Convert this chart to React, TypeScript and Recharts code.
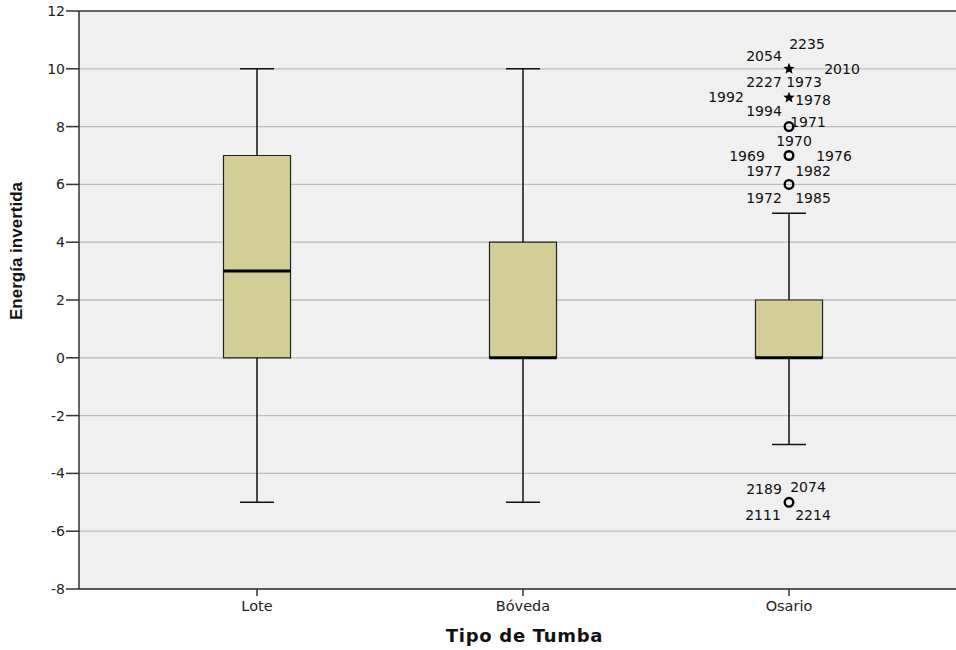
import React from 'react';
import {
  ComposedChart,
  XAxis,
  YAxis,
  CartesianGrid,
  ReferenceArea,
  ReferenceLine,
  Scatter,
  Label,
} from 'recharts';

// ---- data ----
const categories = ['Lote', 'Bóveda', 'Osario'];
const whiskerLow = [-5, -5, -3];
const q1 = [0, 0, 0];
const medians = [3, 0, 0];
const q3 = [7, 4, 2];
const whiskerHigh = [10, 10, 5];

const yTicks = [-8, -6, -4, -2, 0, 2, 4, 6, 8, 10, 12];

// outliers (all in Osario)
const outlierCategory = [3, 3, 3, 3, 3, 3];
const outlierValues = [10, 9, 8, 7, 6, -5];
const outlierKinds = ['extreme', 'extreme', 'outlier', 'outlier', 'outlier', 'outlier'];
const outlierCases = [
  ['2054', '2235', '2010', '2227', '1973'],
  ['1992', '1978', '1994'],
  ['1971'],
  ['1970', '1969', '1976'],
  ['1977', '1982', '1972', '1985'],
  ['2189', '2074', '2111', '2214'],
];
// label placement (pixel offsets from marker)
const outlierLabelOffsets = [
  [[-25, -13], [18, -25], [53, 0], [-25, 13], [15, 13]],
  [[-63, -1], [24, 2], [-25, 13]],
  [[19, -5]],
  [[5, -15], [-42, 0], [45, 0]],
  [[-25, -13], [24, -13], [-25, 14], [24, 14]],
  [[-25, -13], [19, -15], [-26, 13], [24, 13]],
];

const BOX_HALF = 0.126;
const CAP_HALF = 0.064;
const BOX_FILL = '#d3ce98';
const LINE = '#111';

const scatterData = outlierValues.map((v, i) => ({
  x: outlierCategory[i],
  y: v,
  kind: outlierKinds[i],
  idx: i,
}));

const starPath = (cx: number, cy: number, R: number, r: number) => {
  const pts: string[] = [];
  for (let k = 0; k < 10; k++) {
    const rad = k % 2 === 0 ? R : r;
    const a = -Math.PI / 2 + (k * Math.PI) / 5;
    pts.push(`${cx + rad * Math.cos(a)},${cy + rad * Math.sin(a)}`);
  }
  return 'M' + pts.join('L') + 'Z';
};

const OutlierShape = (props: any) => {
  const { cx, cy, payload } = props;
  if (cx == null || cy == null) return null;
  const i = payload.idx;
  const cases = outlierCases[i];
  const offs = outlierLabelOffsets[i];
  return (
    <g>
      {payload.kind === 'extreme' ? (
        <path d={starPath(cx, cy, 6, 2.6)} fill="#000" />
      ) : (
        <circle cx={cx} cy={cy} r={4.3} fill="none" stroke="#000" strokeWidth={2.4} />
      )}
      {cases.map((c, j) => (
        <text
          key={c}
          x={cx + offs[j][0]}
          y={cy + offs[j][1]}
          textAnchor="middle"
          dominantBaseline="central"
          fontFamily="DejaVu Sans"
          fontSize={14}
          fill="#111"
        >
          {c}
        </text>
      ))}
    </g>
  );
};

export default function App() {
  return (
    <div style={{ position: 'absolute', left: 0, top: 0, width: 956, height: 650, background: '#fff' }}>
      <ComposedChart
        width={956}
        height={650}
        margin={{ top: 11, right: 0, bottom: 0, left: 0 }}
        style={{ fontFamily: 'DejaVu Sans' }}
      >
        <CartesianGrid
          vertical={false}
          fill="#f0f0f0"
          fillOpacity={1}
          stroke="#bdbdbd"
          strokeWidth={1.3}
        />
        <XAxis
          type="number"
          dataKey="x"
          domain={[0.3308, 3.6278]}
          allowDataOverflow
          ticks={[1, 2, 3]}
          tickFormatter={(v: number) => categories[v - 1]}
          height={61}
          tickSize={7}
          tickMargin={5}
          stroke="#333"
          strokeWidth={1.5}
          tick={{ fill: '#222', fontSize: 14.5, fontFamily: 'DejaVu Sans' }}
          label={
            <Label
              content={(p: any) => {
                const vb = p.viewBox || {};
                return (
                  <text
                    x={vb.x + vb.width / 2 + 7}
                    y={vb.y + 53}
                    textAnchor="middle"
                    fontFamily="DejaVu Sans"
                    fontWeight="bold"
                    fontSize={18}
                    letterSpacing={0.7}
                    fill="#111"
                  >
                    Tipo de Tumba
                  </text>
                );
              }}
            />
          }
        />
        <YAxis
          type="number"
          domain={[-8, 12]}
          ticks={yTicks}
          allowDataOverflow
          width={79}
          tickSize={13}
          tickMargin={1}
          stroke="#333"
          strokeWidth={1.5}
          tick={{ fill: '#222', fontSize: 14, fontFamily: 'DejaVu Sans' }}
          label={
            <Label
              content={(p: any) => {
                const vb = p.viewBox || {};
                const cy = vb.y + vb.height / 2 - 49;
                return (
                  <text
                    x={16}
                    y={cy}
                    transform={`rotate(-90 16 ${cy})`}
                    textAnchor="middle"
                    dominantBaseline="central"
                    fontFamily="Liberation Sans"
                    fontWeight="bold"
                    fontSize={17}
                    fill="#111"
                  >
                    Energía invertida
                  </text>
                );
              }}
            />
          }
        />
        <ReferenceLine y={12} stroke="#444" strokeWidth={1.5} />
        {categories.map((c, i) => {
          const x = i + 1;
          return (
            <React.Fragment key={c}>
              <ReferenceLine
                segment={[{ x, y: q3[i] }, { x, y: whiskerHigh[i] }]}
                stroke={LINE}
                strokeWidth={1.5}
              />
              <ReferenceLine
                segment={[{ x, y: whiskerLow[i] }, { x, y: q1[i] }]}
                stroke={LINE}
                strokeWidth={1.5}
              />
              <ReferenceLine
                segment={[{ x: x - CAP_HALF, y: whiskerHigh[i] }, { x: x + CAP_HALF, y: whiskerHigh[i] }]}
                stroke={LINE}
                strokeWidth={1.5}
              />
              <ReferenceLine
                segment={[{ x: x - CAP_HALF, y: whiskerLow[i] }, { x: x + CAP_HALF, y: whiskerLow[i] }]}
                stroke={LINE}
                strokeWidth={1.5}
              />
              <ReferenceArea
                x1={x - BOX_HALF}
                x2={x + BOX_HALF}
                y1={q1[i]}
                y2={q3[i]}
                fill={BOX_FILL}
                fillOpacity={1}
                stroke="#222"
                strokeWidth={1.2}
              />
              <ReferenceLine
                segment={[{ x: x - BOX_HALF, y: medians[i] }, { x: x + BOX_HALF, y: medians[i] }]}
                stroke="#000"
                strokeWidth={3}
              />
            </React.Fragment>
          );
        })}
        <Scatter
          data={scatterData}
          dataKey="y"
          isAnimationActive={false}
          shape={OutlierShape}
        />
      </ComposedChart>
    </div>
  );
}
